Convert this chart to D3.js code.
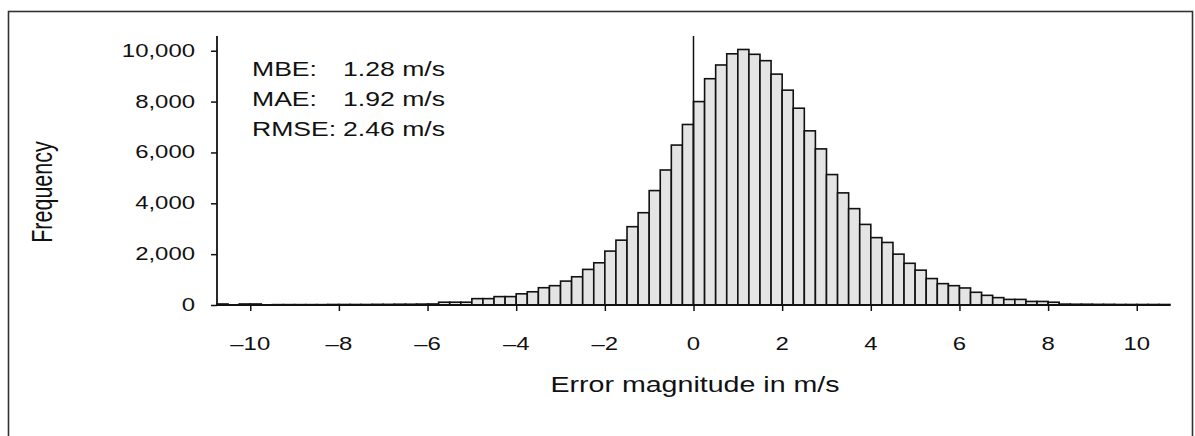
<!DOCTYPE html>
<html>
<head>
<meta charset="utf-8">
<script src="https://cdn.jsdelivr.net/npm/d3@7"></script>
<style>
  html, body { margin: 0; padding: 0; background: #fff; }
  svg { display: block; }
  text { font-family: "Liberation Sans", Arial, Helvetica, sans-serif; fill: #111; }
</style>
</head>
<body>
<svg id="chart" width="1195" height="436"></svg>
<script>
// ---- data ----
const binWidth = 0.25;
const binStarts = [
  -10.75, -10.5, -10.25, -10, -9.75, -9.5, -9.25, -9, -8.75, -8.5,
  -8.25, -8, -7.75, -7.5, -7.25, -7, -6.75, -6.5, -6.25, -6,
  -5.75, -5.5, -5.25, -5, -4.75, -4.5, -4.25, -4, -3.75, -3.5,
  -3.25, -3, -2.75, -2.5, -2.25, -2, -1.75, -1.5, -1.25, -1,
  -0.75, -0.5, -0.25, 0, 0.25, 0.5, 0.75, 1, 1.25, 1.5,
  1.75, 2, 2.25, 2.5, 2.75, 3, 3.25, 3.5, 3.75, 4,
  4.25, 4.5, 4.75, 5, 5.25, 5.5, 5.75, 6, 6.25, 6.5,
  6.75, 7, 7.25, 7.5, 7.75, 8, 8.25, 8.5, 8.75, 9,
  9.25, 9.5, 9.75, 10, 10.25, 10.5
];
const frequencies = [
  40, 0, 40, 40, 0, 15, 15, 15, 15, 15,
  20, 20, 20, 20, 25, 25, 30, 30, 35, 40,
  110, 110, 110, 250, 250, 330, 330, 440, 520, 680,
  760, 940, 1110, 1400, 1660, 2120, 2550, 3080, 3630, 4500,
  5310, 6290, 7100, 8000, 8900, 9440, 9880, 10050, 9860, 9610,
  9080, 8450, 7740, 6850, 6140, 5130, 4410, 3790, 3170, 2650,
  2460, 2000, 1640, 1370, 1040, 840, 760, 670, 500, 380,
  290, 220, 220, 140, 140, 110, 35, 30, 30, 25,
  25, 20, 20, 20, 20, 20
];
const xTicks = [-10, -8, -6, -4, -2, 0, 2, 4, 6, 8, 10];
const yTicks = [0, 2000, 4000, 6000, 8000, 10000];
const statLabels = ["MBE:", "MAE:", "RMSE:"];
const statValues = ["1.28 m/s", "1.92 m/s", "2.46 m/s"];
const xTitle = "Error magnitude in m/s";
const yTitle = "Frequency";
const xDomain = [-10.75, 10.75];
const yMax = 10580;

// ---- layout ----
const svg = d3.select("#chart");
const mLeft = 217, mRight = 1170, mTop = 36, mBottom = 305;
const sx = 1.33;   // text is horizontally stretched in the reference
const fsTick = 18, fsStat = 20, fsTitle = 21.5;

const x = d3.scaleLinear().domain(xDomain).range([mLeft, mRight]);
const y = d3.scaleLinear().domain([0, yMax]).range([mBottom, mTop]);

// outer frame
svg.append("rect")
  .attr("x", 8.5).attr("y", 11.5)
  .attr("width", 1184).attr("height", 440)
  .attr("fill", "none").attr("stroke", "#333").attr("stroke-width", 1.6);

// bars
const bins = binStarts.map((s, i) => ({ x0: s, x1: s + binWidth, v: frequencies[i] }));
svg.append("g").selectAll("rect").data(bins).join("rect")
  .attr("x", d => x(d.x0))
  .attr("y", d => y(d.v))
  .attr("width", d => x(d.x1) - x(d.x0))
  .attr("height", d => y(0) - y(d.v))
  .attr("fill", "#e4e4e4")
  .attr("stroke", "#111")
  .attr("stroke-width", 1.6);

// zero reference line
svg.append("line")
  .attr("x1", x(0)).attr("x2", x(0))
  .attr("y1", mTop).attr("y2", mBottom)
  .attr("stroke", "#111").attr("stroke-width", 1.5);

// axes
const xAxis = d3.axisBottom(x).tickValues(xTicks).tickSize(6).tickFormat(d => "");
const gx = svg.append("g").attr("transform", `translate(0,${mBottom})`).call(xAxis);
gx.select(".domain").attr("d", `M${mLeft},0H${mRight}`).attr("stroke", "#111").attr("stroke-width", 1.8);
gx.selectAll(".tick line").attr("stroke", "#111").attr("stroke-width", 1.5);

const yAxis = d3.axisLeft(y).tickValues(yTicks).tickSize(6).tickFormat(d => "");
const gy = svg.append("g").attr("transform", `translate(${mLeft},0)`).call(yAxis);
gy.select(".domain").attr("d", `M0,${mTop}V${mBottom}`).attr("stroke", "#111").attr("stroke-width", 1.8);
gy.selectAll(".tick line").attr("stroke", "#111").attr("stroke-width", 1.5);

// tick labels (stretched text)
const fmtX = d => (d < 0 ? "\u2013" + Math.abs(d) : String(d));
svg.append("g").selectAll("text").data(xTicks).join("text")
  .attr("transform", d => `translate(${x(d)},350) scale(${sx},1)`)
  .attr("text-anchor", "middle")
  .attr("font-size", fsTick)
  .text(fmtX);

const fmtY = d3.format(",");
svg.append("g").selectAll("text").data(yTicks).join("text")
  .attr("transform", d => `translate(195,${y(d)}) scale(${sx},1)`)
  .attr("text-anchor", "end")
  .attr("dy", "0.33em")
  .attr("font-size", fsTick)
  .text(fmtY);

// stats block
const statY = [76, 106, 136];
svg.append("g").selectAll("text").data(statLabels).join("text")
  .attr("transform", (d, i) => `translate(252,${statY[i]}) scale(${sx},1)`)
  .attr("font-size", fsStat)
  .text(d => d);
svg.append("g").selectAll("text").data(statValues).join("text")
  .attr("transform", (d, i) => `translate(445,${statY[i]}) scale(${sx},1)`)
  .attr("text-anchor", "end")
  .attr("font-size", fsStat)
  .text(d => d);

// axis titles
svg.append("text")
  .attr("transform", `translate(695,392) scale(${sx},1)`)
  .attr("text-anchor", "middle")
  .attr("font-size", fsTitle)
  .text(xTitle);

svg.append("text")
  .attr("transform", `translate(52,192) scale(${sx},1) rotate(-90)`)
  .attr("text-anchor", "middle")
  .attr("font-size", fsTitle)
  .text(yTitle);
</script>
</body>
</html>
